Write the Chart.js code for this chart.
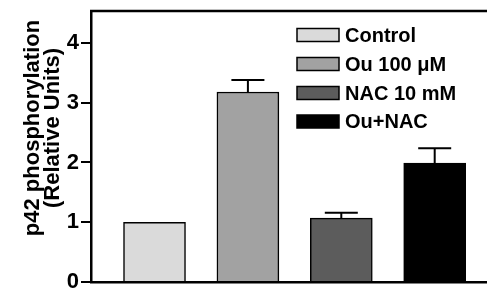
<!DOCTYPE html>
<html>
<head>
<meta charset="utf-8">
<script src="https://cdn.jsdelivr.net/npm/chart.js@4.4.1/dist/chart.umd.min.js"></script>
<style>
  html, body { margin: 0; padding: 0; background: #fff; }
  #wrap { width: 487px; height: 289px; }
</style>
</head>
<body>
<div id="wrap"><canvas id="myChart"></canvas></div>
<script>
// data
const categories = ['Control', 'Ou 100 \u03bcM', 'NAC 10 mM', 'Ou+NAC'];
const values = [1.0, 3.18, 1.07, 1.99];
const errors = [0, 0.2, 0.09, 0.25];
const barColors = ['#dadada', '#a2a2a2', '#5c5c5c', '#000000'];
const yTicks = [0, 1, 2, 3, 4];
const yTitle = ['p42 phosphorylation', '(Relative Units)'];

const FONT = "'Liberation Sans', Arial, sans-serif";

// upper error bars
const errorBars = {
  id: 'errorBars',
  afterDatasetsDraw(chart) {
    const ctx = chart.ctx;
    const xs = chart.scales.x, ys = chart.scales.y;
    ctx.save();
    ctx.strokeStyle = '#000';
    ctx.lineWidth = 2;
    for (var i = 0; i < values.length; i++) {
      if (!errors[i]) continue;
      var x = xs.getPixelForValue(i);
      var y0 = ys.getPixelForValue(values[i]);
      var y1 = ys.getPixelForValue(values[i] + errors[i]);
      ctx.beginPath();
      ctx.moveTo(x, y0);
      ctx.lineTo(x, y1);
      ctx.moveTo(x - 16.5, y1);
      ctx.lineTo(x + 16.5, y1);
      ctx.stroke();
    }
    ctx.restore();
  }
};

// legend inside the plot + axis title
const extras = {
  id: 'extras',
  afterDraw(chart) {
    const ctx = chart.ctx;
    ctx.save();
    // top frame line
    ctx.strokeStyle = '#000';
    ctx.lineWidth = 2.5;
    ctx.beginPath();
    ctx.moveTo(chart.chartArea.left - 1, chart.chartArea.top);
    ctx.lineTo(chart.width, chart.chartArea.top);
    ctx.stroke();

    // legend
    var rows = [35, 64, 93, 121.5];
    ctx.font = 'bold 20px ' + FONT;
    ctx.textBaseline = 'middle';
    ctx.textAlign = 'left';
    for (var i = 0; i < categories.length; i++) {
      ctx.fillStyle = barColors[i];
      ctx.fillRect(297, rows[i] - 6.5, 42, 13);
      ctx.lineWidth = 1.5;
      ctx.strokeStyle = '#000';
      ctx.strokeRect(297, rows[i] - 6.5, 42, 13);
      ctx.fillStyle = '#000';
      ctx.fillText(categories[i], 345, rows[i] + 1);
    }

    // y title
    ctx.translate(0, 128);
    ctx.rotate(-Math.PI / 2);
    ctx.textAlign = 'center';
    ctx.textBaseline = 'alphabetic';
    ctx.font = 'bold 22px ' + FONT;
    ctx.fillText(yTitle[0], 0, 39);
    ctx.fillText(yTitle[1], 0, 59);
    ctx.restore();
  }
};

function createChart() {
  var ctx = document.getElementById('myChart').getContext('2d');
  new Chart(ctx, {
    type: 'bar',
    data: {
      labels: categories,
      datasets: [{
        data: values.map(function (v, i) { return { x: i, y: v }; }),
        backgroundColor: barColors,
        borderColor: '#000',
        borderWidth: 1.5,
        barThickness: 62
      }]
    },
    options: {
      responsive: true,
      maintainAspectRatio: false,
      animation: false,
      layout: { padding: { top: 11, bottom: 7, right: 0, left: 0 } },
      plugins: { legend: { display: false }, tooltip: { enabled: false } },
      scales: {
        x: {
          type: 'linear',
          min: -0.68,
          max: 3.56,
          offset: false,
          ticks: { display: false },
          grid: { display: false },
          border: { display: true, color: '#000', width: 2.5 },
          afterFit: function (s) { s.height = 0; s.paddingLeft = 0; s.paddingRight = 0; }
        },
        y: {
          min: 0,
          max: 4.535,
          afterBuildTicks: function (s) { s.ticks = yTicks.map(function (v) { return { value: v }; }); },
          ticks: {
            color: '#000',
            padding: 2,
            font: { family: FONT, size: 22, weight: 'bold' },
            callback: function (v) { return String(v); }
          },
          grid: {
            drawOnChartArea: false,
            drawTicks: true,
            tickLength: 10,
            color: '#000',
            lineWidth: 2
          },
          border: { display: true, color: '#000', width: 2.5 },
          afterFit: function (s) { s.width = 91; s.paddingTop = 0; s.paddingBottom = 0; }
        }
      }
    },
    plugins: [errorBars, extras]
  });
}
createChart();
</script>
</body>
</html>
